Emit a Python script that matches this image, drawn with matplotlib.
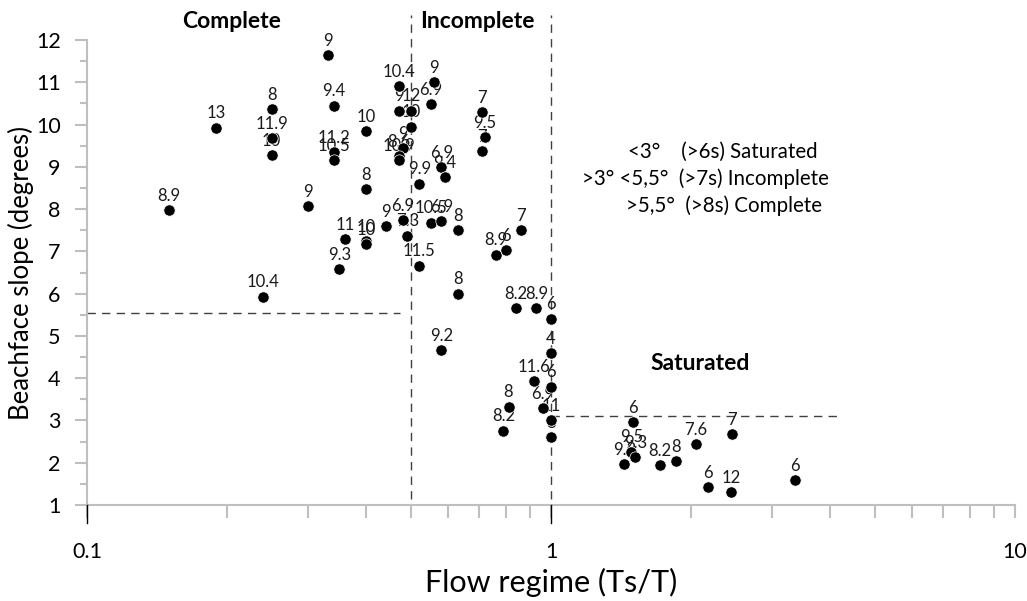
import numpy as np
import matplotlib
matplotlib.use("Agg")
import matplotlib.pyplot as plt
from matplotlib.ticker import FixedLocator, NullFormatter

plt.rcParams['font.family'] = ['Lato', 'DejaVu Sans']

# flow regime (Ts/T), beachface slope (deg), and the period label shown at each point
flow = np.array([0.33, 0.47, 0.34, 0.25, 0.19, 0.25, 0.25, 0.40, 0.34, 0.34,
                 0.40, 0.30, 0.15, 0.47, 0.50, 0.50, 0.56, 0.55, 0.71, 0.72,
                 0.71, 0.48, 0.47, 0.47, 0.58, 0.59, 0.52, 0.44, 0.48, 0.49,
                 0.55, 0.58, 0.63, 0.86, 0.76, 0.80, 0.52, 0.36, 0.40, 0.40,
                 0.35, 0.24, 0.63, 0.84, 0.93, 1.00, 0.58, 1.00, 0.92, 1.00,
                 0.81, 0.96, 1.00, 1.00, 0.79, 1.50, 1.49, 1.52, 1.44, 1.72,
                 1.86, 2.05, 2.45, 2.18, 2.44, 3.36])
slope = np.array([11.65, 10.90, 10.45, 10.37, 9.93, 9.68, 9.28, 9.85, 9.34, 9.15,
                  8.47, 8.07, 7.97, 10.33, 10.33, 9.95, 11.00, 10.49, 10.29, 9.71,
                  9.38, 9.44, 9.26, 9.16, 9.00, 8.76, 8.60, 7.60, 7.74, 7.37,
                  7.68, 7.72, 7.51, 7.51, 6.92, 7.03, 6.66, 7.29, 7.25, 7.17,
                  6.58, 5.93, 6.00, 5.66, 5.66, 5.41, 4.67, 4.60, 3.93, 3.80,
                  3.33, 3.30, 3.01, 2.60, 2.76, 2.96, 2.26, 2.13, 1.96, 1.95,
                  2.04, 2.44, 2.68, 1.43, 1.31, 1.58])
period = ["9", "10.4", "9.4", "8", "13", "11.9", "10", "10", "11.2", "10.5",
          "8", "9", "8.9", "9", "12", "10", "9", "6.9", "7", "9.5",
          "7", "9", "8.6", "10.9", "6.9", "9.4", "9.9", "9", "6.9", "7.3",
          "10.5", "6.9", "8", "7", "8.9", "6", "11.5", "11", "10", "10",
          "9.3", "10.4", "8", "8.2", "8.9", "6", "9.2", "4", "11.6", "6",
          "8", "6.9", "11", "8", "8.2", "6", "9.5", "9.3", "9.3", "8.2",
          "8", "7.6", "7", "6", "12", "6"]

# regime boundaries
x_split = [0.5, 1.0]
complete_slope = 5.55
saturated_slope = 3.1

W, H = 1027, 601
fig = plt.figure(figsize=(W / 100, H / 100), dpi=100)
ax = fig.add_axes([87 / W, 1 - 505 / H, (1015 - 87) / W, (505 - 40) / H])

ax.scatter(flow, slope, s=66, color='black', edgecolor='white', linewidth=0.5, zorder=3)
for x, y, t in zip(flow, slope, period):
    ax.annotate(t, (x, y), xytext=(0, 4.5), textcoords='offset points',
                ha='center', va='bottom', fontsize=12, color='#1a1a1a', zorder=2)

dash = dict(color='#404040', lw=1.0, linestyle=(0, (6, 4.5)), clip_on=False, zorder=1)
for xs in x_split:
    ax.plot([xs, xs], [1.15, 12.6], **dash)
ax.plot([0.1, 0.472], [complete_slope, complete_slope], **dash)
ax.plot([1.0, 4.18], [saturated_slope, saturated_slope], **dash)

ax.set_xscale('log')
ax.set_xlim(0.1, 10)
ax.set_ylim(1, 12)
ax.set_xticks([0.1, 1, 10])
ax.set_xticklabels(['0.1', '1', '10'])
ax.xaxis.set_minor_locator(FixedLocator([k * d for d in (0.1, 1) for k in range(2, 10)]))
ax.xaxis.set_minor_formatter(NullFormatter())
ax.set_yticks(np.arange(1, 13))
ax.yaxis.set_minor_locator(FixedLocator(np.arange(1.5, 12, 1.0)))

for s in ('top', 'right'):
    ax.spines[s].set_visible(False)
for s in ('left', 'bottom'):
    ax.spines[s].set_color('#bfbfbf')
    ax.spines[s].set_linewidth(1.5)

ax.tick_params(axis='x', which='both', direction='out', color='#bfbfbf', width=1.5,
               labelsize=15.5, pad=18)
ax.tick_params(axis='x', which='major', length=9)
ax.tick_params(axis='x', which='minor', length=9)
ax.tick_params(axis='y', which='major', direction='out', color='#bfbfbf', width=1.5,
               length=9, labelsize=15.5, pad=10)
ax.tick_params(axis='y', which='minor', direction='out', color='#bfbfbf', width=1.5, length=5)

# dark marks below the axis at 0.1 and 1
for xs in (0.1, 1.0):
    ax.plot([xs, xs], [1.0, 0.58], color='black', lw=1.0, clip_on=False, zorder=4)

ax.set_ylabel('Beachface slope (degrees)', fontsize=18.5, va='center')
ax.yaxis.set_label_coords((21 - 87) / (1015 - 87), 0.5)
ax.set_xlabel('Flow regime (Ts/T)', fontsize=22, labelpad=4)

fig.text(232 / W, 1 - 21 / H, 'Complete', ha='center', va='center', fontsize=16.5, fontweight='bold')
fig.text(477 / W, 1 - 21 / H, 'Incomplete', ha='center', va='center', fontsize=16.5, fontweight='bold')
fig.text(700 / W, 1 - 364 / H, 'Saturated', ha='center', va='center', fontsize=16.5, fontweight='bold')

fig.text(628 / W, 1 - 152 / H, '<3°    (>6s) Saturated', ha='left', va='center', fontsize=14.8)
fig.text(582 / W, 1 - 179 / H, '>3° <5,5°  (>7s) Incomplete', ha='left', va='center', fontsize=14.8)
fig.text(626 / W, 1 - 206 / H, '>5,5°  (>8s) Complete', ha='left', va='center', fontsize=14.8)

fig.savefig('out.png', dpi=100)
